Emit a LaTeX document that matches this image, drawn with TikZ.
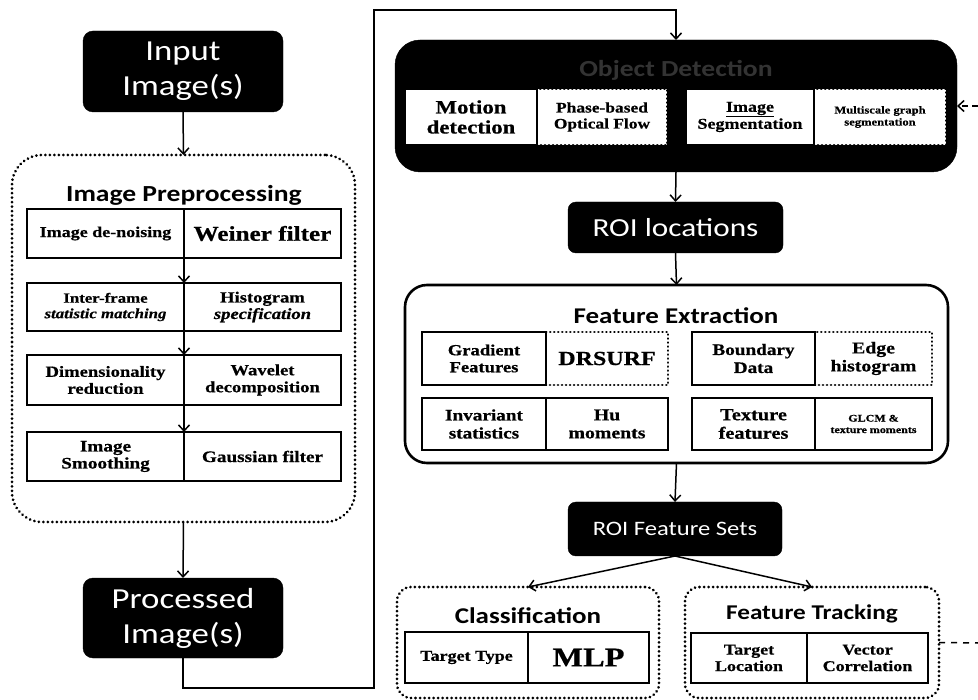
\documentclass[tikz,border=0pt]{standalone}
\usepackage{fontspec}
\setmainfont{Liberation Serif}
\newfontfamily\calib{Carlito}[FakeStretch=1.2]
\newfontfamily\tms{Liberation Serif}[FakeStretch=1.2, FakeBold=0.6]
\usetikzlibrary{arrows.meta}
\newcommand\fsz[2]{\fontsize{#1}{#2}\selectfont}

\tikzset{
  blackbox/.style={fill=black, draw=black, rounded corners=10pt, text=white,
    align=center, inner sep=0pt, outer sep=0pt},
  cal/.style 2 args={font=\calib\fsz{#1}{#2}},
  calb/.style={font=\calib\bfseries\fsz{#1}{#1}},
  tm/.style 2 args={font=\tms\bfseries\fsz{#1}{#2}},
  cell/.style={draw=black, fill=white, line width=2.2pt, inner sep=0pt, outer sep=0pt,
    align=center, anchor=north west},
  dotcell/.style={cell, dash pattern=on 0.01pt off 4pt, line cap=round, line width=2.8pt},
  frame/.style={draw=black, inner sep=0pt, outer sep=0pt, line width=2.6pt},
  dotframe/.style={frame, dash pattern=on 0.01pt off 4.5pt, line cap=round, line width=3pt},
  arr/.style={draw=black, line width=1.5pt,
    -{Straight Barb[length=6pt, width=11pt, line width=1.5pt]}},
  dasharr/.style={arr, dash pattern=on 6pt off 4pt},
  faint/.style={text={rgb,1:red,0.2;green,0.2;blue,0.2}},
}

\begin{document}
\begin{tikzpicture}[x=1pt, y=-1pt]
\useasboundingbox (0,0) rectangle (978,700);
\fill[white] (0,0) rectangle (978,700);

% ---------- left column: input and preprocessing ----------
\node[blackbox, cal={29}{35}, minimum width=200pt, minimum height=81pt] (input) at (183,71.5) {Input\\Image(s)};

\node[dotframe, rounded corners=30pt, minimum width=343pt, minimum height=367pt] (pre) at (183.5,338.5) {};
\node[calb=23] (preT) at (184,195) {Image Preprocessing};

% row 1
\node[cell, tm={21}{23}, minimum width=157pt, minimum height=49pt] (p1b) at (184,209) {Weiner filter};
\node[cell, tm={15}{16.5}, minimum width=157pt, minimum height=49pt] (p1a) at (27,209) {Image de-noising};
% row 2
\node[cell, tm={15.5}{16.5}, minimum width=157pt, minimum height=48pt] (p2b) at (184,283) {Histogram\\\textit{specification}};
\node[cell, tm={14}{15.5}, minimum width=157pt, minimum height=48pt] (p2a) at (27,283) {Inter-frame\\\textit{statistic matching}};
% row 3
\node[cell, tm={15.5}{17}, minimum width=157pt, minimum height=50pt] (p3b) at (184,355) {Wavelet\\decomposition};
\node[cell, tm={15.5}{17}, minimum width=157pt, minimum height=50pt] (p3a) at (27,355) {Dimensionality\\reduction};
% row 4
\node[cell, tm={16}{17}, minimum width=157pt, minimum height=49pt] (p4b) at (184,432) {Gaussian filter};
\node[cell, tm={16}{17}, minimum width=157pt, minimum height=49pt] (p4a) at (27,432) {Image\\Smoothing};

\node[blackbox, cal={29}{35}, minimum width=200pt, minimum height=80pt] (proc) at (183,618) {Processed\\Image(s)};

\draw[arr] (input.south) -- (pre.north);
\draw[arr] (p1a.south east) -- (p2a.north east);
\draw[arr] (p2a.south east) -- (p3a.north east);
\draw[arr] (p3a.south east) -- (p4a.north east);
\draw[arr] (pre.south) -- (proc.north);

% ---------- object detection ----------
\node[blackbox, rounded corners=25pt, minimum width=562pt, minimum height=132pt] (obj) at (676,106) {};
\node[faint, calb=23] (objT) at (676,70) {Object Detection};
\node[dotcell, draw=black, tm={14.5}{16}, minimum width=130pt, minimum height=56pt] (od2) at (537,89) {Phase-based\\Optical Flow};
\node[cell, tm={19}{20}, minimum width=132pt, minimum height=56pt] (od1) at (405,89) {Motion\\detection};
\node[dotcell, tm={10.5}{12}, minimum width=132pt, minimum height=56pt] (od4) at (814,89) {Multiscale graph\\segmentation};
\node[cell, tm={15}{17}, minimum width=128pt, minimum height=56pt] (od3) at (686,89) {\underline{Image}\\Segmentation};

% feedback loop from processed images into detection
\coordinate (loopA) at (374,688);
\coordinate (loopB) at (374,10);
\coordinate (loopC) at (676,10);
\draw[arr, rounded corners=0pt] (proc.south) |- (loopA) -- (loopB) -- (loopC) -- (obj.north);

% incoming dashed feedback on the right
\coordinate (fbIn) at (978,106);
\draw[dasharr] (fbIn) -- (obj.east);

% ---------- ROI locations and feature extraction ----------
\node[blackbox, cal={26}{28}, rounded corners=8pt, minimum width=215pt, minimum height=51pt] (roi) at (675.5,227.5) {ROI locations};
\draw[arr] (obj.south) -- (roi.north);

\node[frame, rounded corners=22pt, minimum width=543pt, minimum height=178pt] (fe) at (676.5,374) {};
\node[calb=22.5] (feT) at (676,316) {Feature Extraction};
\draw[arr] (roi.south) -- (fe.north);

% left group
\node[dotcell, tm={20}{22}, minimum width=122pt, minimum height=53pt] (fe2) at (546,332) {DRSURF};
\node[cell, tm={15.5}{17}, minimum width=124pt, minimum height=53pt] (fe1) at (422,332) {Gradient\\Features};
\node[cell, tm={16.5}{18}, minimum width=122pt, minimum height=52pt] (fe4) at (546,398) {Hu\\moments};
\node[cell, tm={16}{18}, minimum width=124pt, minimum height=52pt] (fe3) at (422,398) {Invariant\\statistics};
% right group
\node[dotcell, tm={16.5}{18}, minimum width=117pt, minimum height=53pt] (fe6) at (815,332) {Edge\\histogram};
\node[cell, tm={16}{18}, minimum width=123pt, minimum height=53pt] (fe5) at (692,332) {Boundary\\Data};
\node[cell, tm={10}{11.5}, minimum width=117pt, minimum height=52pt] (fe8) at (815,398) {GLCM \&\\texture moments};
\node[cell, tm={17}{18.5}, minimum width=123pt, minimum height=52pt] (fe7) at (692,398) {Texture\\features};

% ---------- ROI feature sets and the two consumers ----------
\node[blackbox, cal={20.5}{22}, rounded corners=8pt, minimum width=214pt, minimum height=54pt] (rfs) at (675,529) {ROI Feature Sets};
\draw[arr] (fe.south) -- (rfs.north);

\node[dotframe, rounded corners=14pt, minimum width=262pt, minimum height=111pt] (cls) at (528,642.5) {};
\node[calb=22.5] (clsT) at (528,616) {Classification};
\node[cell, tm={15}{17}, minimum width=123pt, minimum height=51pt] (c1) at (405,632) {Target Type};
\node[cell, tm={27}{29}, minimum width=121pt, minimum height=51pt] (c2) at (528,632) {MLP};

\node[dotframe, rounded corners=14pt, minimum width=254pt, minimum height=111pt] (ft) at (812,642.5) {};
\node[calb=21] (ftT) at (812,614) {Feature Tracking};
\node[cell, tm={15}{16.5}, minimum width=116pt, minimum height=50pt] (t1) at (691,633) {Target\\Location};
\node[cell, tm={15}{16.5}, minimum width=121pt, minimum height=50pt] (t2) at (807,633) {Vector\\Correlation};

\draw[arr] (rfs.south) -- (cls.north);
\draw[arr] (rfs.south) -- (ft.north);

% outgoing dashed link on the right
\coordinate (fbOut) at (978,643);
\draw[black, line width=1.5pt, dash pattern=on 6pt off 6pt] (ft.east) -- (fbOut);
\end{tikzpicture}
\end{document}
